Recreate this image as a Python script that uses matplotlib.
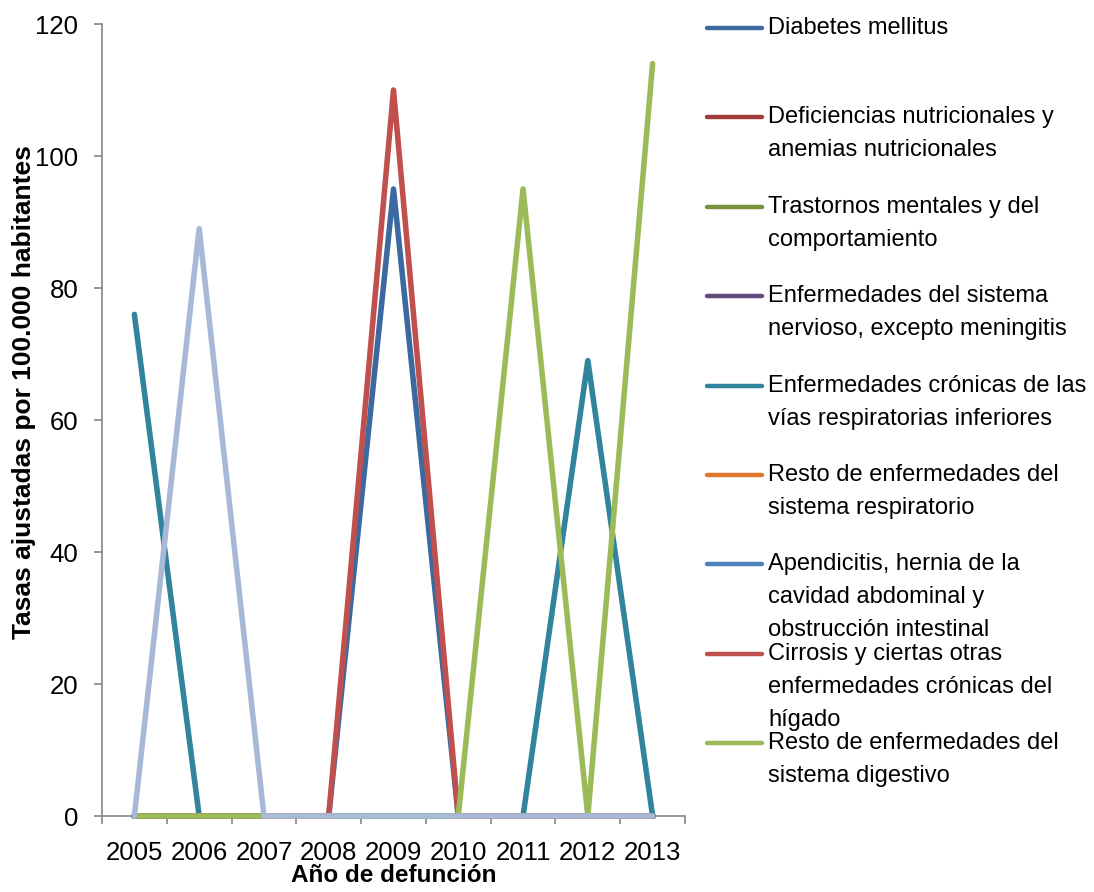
import matplotlib
matplotlib.use("Agg")
import matplotlib.pyplot as plt
from matplotlib.lines import Line2D
import numpy as np

# ---- data ----
years = ["2005", "2006", "2007", "2008", "2009", "2010", "2011", "2012", "2013"]
diabetes = [0, 0, 0, 0, 95, 0, 0, 0, 0]
deficiencias = [0, 0, 0, 0, 0, 0, 0, 0, 0]
trastornos = [0, 0, 0, 0, 0, 0, 0, 0, 0]
nervioso = [0, 0, 0, 0, 0, 0, 0, 0, 0]
cronicas_resp = [76, 0, 0, 0, 0, 0, 0, 69, 0]
resto_resp = [0, 0, 0, 0, 0, 0, 0, 0, 0]
apendicitis = [0, 0, 0, 0, 0, 0, 0, 0, 0]
cirrosis = [0, 0, 0, 0, 110, 0, 0, 0, 0]
resto_digestivo = [0, 0, 0, 0, 0, 0, 95, 0, 114]
otra_serie = [0, 89, 0, 0, 0, 0, 0, 0, 0]

labels = [
    "Diabetes mellitus",
    "Deficiencias nutricionales y\nanemias nutricionales",
    "Trastornos mentales y del\ncomportamiento",
    "Enfermedades del sistema\nnervioso, excepto meningitis",
    "Enfermedades crónicas de las\nvías respiratorias inferiores",
    "Resto de enfermedades del\nsistema respiratorio",
    "Apendicitis, hernia de la\ncavidad abdominal y\nobstrucción intestinal",
    "Cirrosis y ciertas otras\nenfermedades crónicas del\nhígado",
    "Resto de enfermedades del\nsistema digestivo",
]
series = [diabetes, deficiencias, trastornos, nervioso, cronicas_resp,
          resto_resp, apendicitis, cirrosis, resto_digestivo, otra_serie]
colors = ["#3C6AA0", "#A03C3A", "#77933C", "#604A7B", "#31849B",
          "#E0762E", "#4F81BD", "#C0504D", "#9BBB59", "#A7B9D7"]

FONT = ["Liberation Sans", "DejaVu Sans"]
plt.rcParams["font.family"] = FONT

W, H = 1094, 892
fig = plt.figure(figsize=(W / 100, H / 100), dpi=100)
ax = fig.add_axes([102 / W, 1 - 816 / H, (685 - 102) / W, (816 - 24) / H])

x = np.arange(len(years))
for s, c in zip(series, colors):
    ax.plot(x, s, color=c, lw=4.0, solid_joinstyle="round",
            solid_capstyle="round", clip_on=False, zorder=3)

ax.set_xlim(-0.5, len(years) - 0.5)
ax.set_ylim(0, 120)
ax.set_yticks(np.arange(0, 121, 20))

ax.set_xticks(np.arange(-0.5, len(years), 1.0))
ax.set_xticklabels([])
ax.set_xticks(x, minor=True)
ax.set_xticklabels(years, minor=True, fontsize=18.5)
ax.tick_params(axis="x", which="minor", length=0, pad=18)
ax.tick_params(axis="x", which="major", length=6, color="#868686", width=1.2)
ax.tick_params(axis="y", length=6, color="#868686", width=1.2, pad=11,
               labelsize=18.5)

for sp in ["top", "right"]:
    ax.spines[sp].set_visible(False)
for sp in ["left", "bottom"]:
    ax.spines[sp].set_color("#868686")
    ax.spines[sp].set_linewidth(1.2)

ax.set_ylabel("Tasas ajustadas por 100.000 habitantes", fontsize=19,
              fontweight="bold")
ax.yaxis.set_label_coords(-0.114, 0.535)
ax.set_xlabel("Año de defunción", fontsize=17.5, fontweight="bold")
ax.xaxis.set_label_coords(0.5, -0.061)

# legend (manual, fixed spacing as in the reference)
y0 = 28
step = 89.4
for i, (lab, c) in enumerate(zip(labels, colors[:9])):
    yc = y0 + step * i
    fig.add_artist(Line2D([707 / W, 762 / W], [1 - yc / H, 1 - yc / H],
                          color=c, lw=3.2, solid_capstyle="round",
                          transform=fig.transFigure))
    for k, line in enumerate(lab.split("\n")):
        fig.text(768 / W, 1 - (yc + 33 * k) / H, line, fontsize=17,
                 va="center", ha="left")

fig.savefig("out.png", dpi=100)
